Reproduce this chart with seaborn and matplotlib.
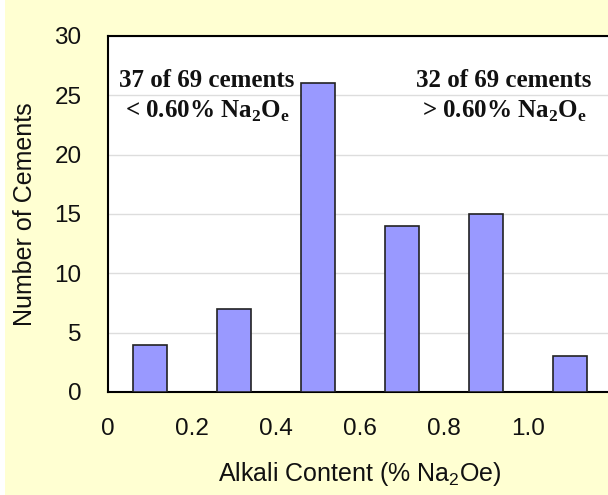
import numpy as np
import pandas as pd
import matplotlib
matplotlib.use("Agg")
import matplotlib.pyplot as plt
import seaborn as sns

# alkali content bins (bin centres, % Na2Oe) and number of cements in each
alkali = [0.1, 0.3, 0.5, 0.7, 0.9, 1.1]
counts = [4, 7, 26, 14, 15, 3]
xticks = [0, 0.2, 0.4, 0.6, 0.8, 1.0]
xtick_labels = ["0", "0.2", "0.4", "0.6", "0.8", "1.0"]
yticks = [0, 5, 10, 15, 20, 25, 30]

df = pd.DataFrame({"alkali": alkali, "count": counts})

sns.set_theme(style="white")
plt.rcParams['font.family'] = ['Liberation Sans', 'DejaVu Sans']

fig = plt.figure(figsize=(6.08, 4.95), dpi=100, facecolor="white")
# cream frame behind the chart (thin white strip on the left)
fig.patches.append(plt.Rectangle((5 / 608, 0), 1, 1, transform=fig.transFigure,
                                 facecolor="#FFFFD2", edgecolor="none", zorder=-10))

ax = fig.add_axes([108 / 608, 103 / 495, 504 / 608, 356 / 495])
ax.set_facecolor("white")

sns.barplot(data=df, x="alkali", y="count", native_scale=True, width=0.4,
            color="#9999FF", edgecolor="#222222", linewidth=1.2, saturation=1, ax=ax, zorder=3)

ax.set_xlim(0, 1.2)
ax.set_ylim(0, 30)
ax.set_xticks(xticks)
ax.set_xticklabels(xtick_labels)
ax.set_yticks(yticks)
ax.yaxis.grid(True, color="#DDDDDD", linewidth=1, zorder=0)
ax.set_axisbelow(True)

for side in ["left", "bottom", "top"]:
    ax.spines[side].set_color("black")
    ax.spines[side].set_linewidth(1.5)
ax.spines["right"].set_visible(False)

ax.tick_params(axis="both", which="both", direction="out", length=9, width=1.5,
               color="black", labelsize=17.5, labelcolor="#111111")
ax.tick_params(axis="x", pad=10)
ax.tick_params(axis="y", pad=10)

ax.set_xlabel("Alkali Content (% Na$_\\mathregular{2}$Oe)", fontsize=18, labelpad=14, color="#111111")
ax.set_ylabel("Number of Cements", fontsize=18, color="#111111")
ax.yaxis.set_label_coords(-(108 - 37) / 504, 0.5)

# notes on either side of the 0.60 % limit
note = dict(fontsize=18, fontweight="bold", family=["Liberation Serif", "DejaVu Serif"],
            ha="center", va="baseline", color="#111111")
ax.text(0.234, 25.7, "37 of 69 cements", **note)
ax.text(0.236, 23.1, "< 0.60% Na$_\\mathregular{2}$O$_\\mathregular{e}$", **note)
ax.text(0.943, 25.7, "32 of 69 cements", **note)
ax.text(0.945, 23.1, "> 0.60% Na$_\\mathregular{2}$O$_\\mathregular{e}$", **note)

fig.savefig("out.png", dpi=100, facecolor=fig.get_facecolor())
